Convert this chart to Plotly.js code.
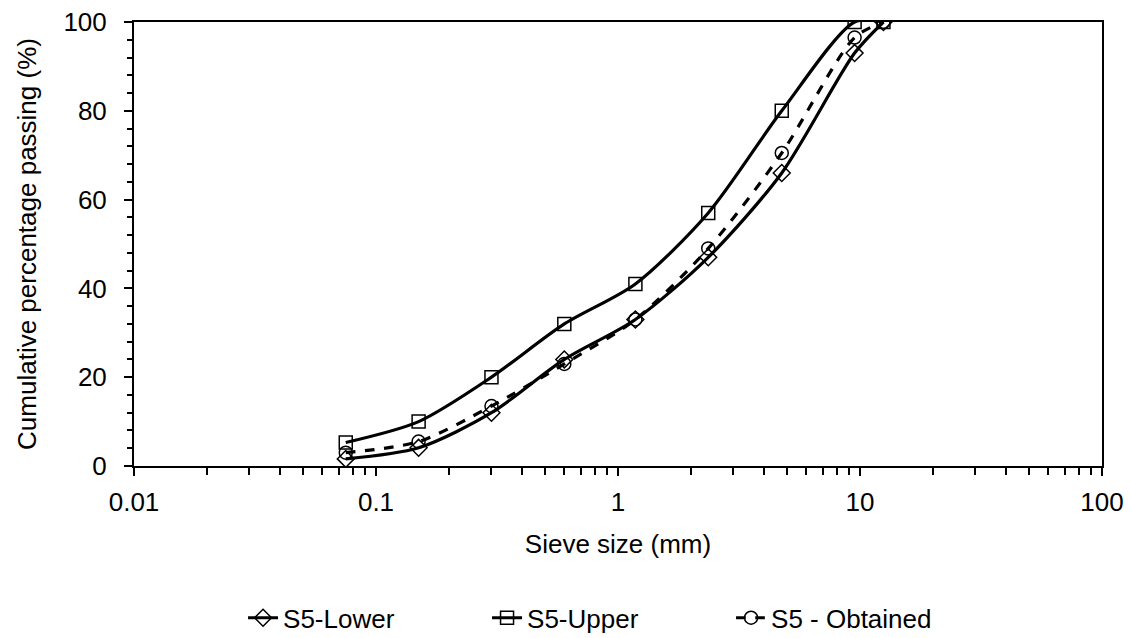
<!DOCTYPE html>
<html><head><meta charset="utf-8">
<script src="https://cdn.plot.ly/plotly-3.0.1.min.js"></script>
<style>html,body{margin:0;padding:0;background:#fff}#chart{width:1131px;height:638px}</style>
</head><body><div id="chart"></div>
<script>
const sieveSizes = [0.075, 0.15, 0.3, 0.6, 1.18, 2.36, 4.75, 9.5, 12.5];
const lowerValues = [1.6, 4.1, 12, 24, 33, 47, 66, 93, 100];
const upperValues = [5.3, 10, 20, 32, 41, 57, 80, 100, 100];
const obtainedValues = [3, 5.5, 13.5, 23, 33, 49, 70.5, 96.5, 100];
const seriesNames = ['S5-Lower', 'S5-Upper', 'S5 - Obtained'];
const xTickVals = [0.01, 0.1, 1, 10, 100];
const xTickText = ['0.01', '0.1', '1', '10', '100'];

const minorX = [];
for (let d = 0.01; d < 100; d *= 10) for (let m = 2; m <= 9; m++) minorX.push(+(d * m).toPrecision(3));

const font = 'Liberation Sans, Arial, sans-serif';
function tr(y, name, sym, dash, size) {
  return {x: sieveSizes, y: y, name: name, type: 'scatter', mode: 'lines+markers',
    line: {color: '#000', width: 3.2, shape: 'spline', smoothing: 0.8, dash: dash},
    marker: {symbol: sym, size: size, color: '#000', line: {color: '#000', width: 1.5}}};
}
const data = [
  tr(lowerValues, seriesNames[0], 'diamond-open', 'solid', 13),
  tr(upperValues, seriesNames[1], 'square-open', 'solid', 13),
  tr(obtainedValues, seriesNames[2], 'circle-open', 'dash', 13)
];
const layout = {
  width: 1131, height: 638,
  margin: {l: 134, r: 29, t: 22, b: 172, autoexpand: false},
  paper_bgcolor: '#fff', plot_bgcolor: '#fff',
  font: {family: font, size: 26, color: '#000'},
  showlegend: true,
  legend: {orientation: 'h', xref: 'container', x: 0.5385, xanchor: 'center', y: -0.342, yanchor: 'middle',
    font: {family: font, size: 26}, traceorder: 'normal', entrywidth: 199},
  xaxis: {type: 'log', range: [-2, 2], tickvals: xTickVals, ticktext: xTickText,
    ticks: 'outside', ticklen: 8, tickwidth: 2, tickcolor: '#000', ticklabelstandoff: 4,
    minor: {tickvals: minorX, ticks: 'outside', ticklen: 7, tickwidth: 2, tickcolor: '#000', showgrid: false},
    showgrid: false, zeroline: false, showline: true, linecolor: '#000', linewidth: 2, mirror: true,
    automargin: false,
    title: {text: 'Sieve size (mm)', font: {family: font, size: 26}, standoff: 19},
    tickfont: {family: font, size: 26}},
  yaxis: {range: [0, 100], dtick: 20, ticks: 'outside', ticklen: 8, tickwidth: 2, tickcolor: '#000', ticklabelstandoff: 12,
    minor: {dtick: 4, ticks: 'outside', ticklen: 5, tickwidth: 2, tickcolor: '#000', showgrid: false},
    showgrid: false, zeroline: false, showline: true, linecolor: '#000', linewidth: 2, mirror: true,
    automargin: false,
    title: {text: 'Cumulative percentage passing (%)', font: {family: font, size: 26}, standoff: 19},
    tickfont: {family: font, size: 26}}
};
Plotly.newPlot('chart', data, layout, {displayModeBar: false, staticPlot: true});
</script></body></html>
